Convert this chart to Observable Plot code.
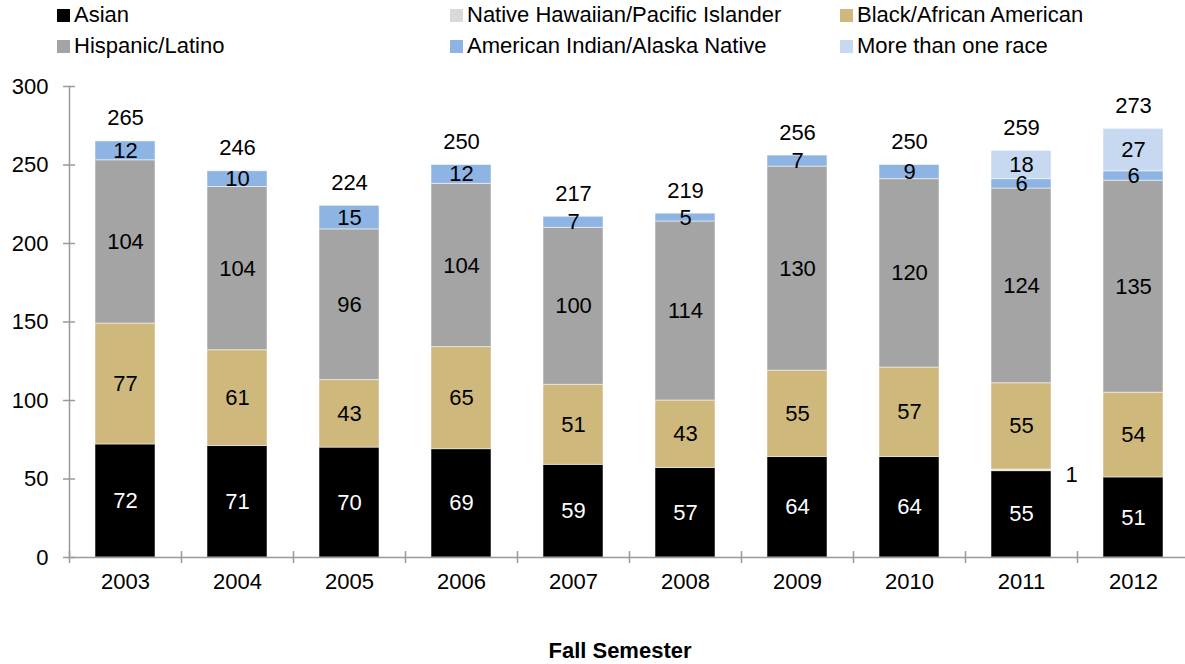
<!DOCTYPE html>
<html><head><meta charset="utf-8">
<script src="https://cdn.jsdelivr.net/npm/d3@7"></script>
<script src="https://cdn.jsdelivr.net/npm/@observablehq/plot@0.6"></script>
<style>
body{margin:0;background:#fff;font-family:"Liberation Sans",Arial,Helvetica,sans-serif;}
#wrap{position:relative;width:1185px;height:664px;overflow:hidden;background:#fff}
#chart{position:absolute;left:0;top:0}
.leg{position:absolute;font-size:22px;line-height:22px;height:22px;display:flex;align-items:center;white-space:nowrap;color:#000}
.sw{width:13px;height:13px;margin-right:4px;display:inline-block}
#xtitle{position:absolute;left:0;width:1240px;top:639px;text-align:center;font-weight:bold;font-size:22px;line-height:24px;color:#000}
</style></head>
<body>
<div id="wrap"><div id="chart"></div><div id="legend"></div><div id="xtitle">Fall Semester</div></div>
<script>
const years = ["2003","2004","2005","2006","2007","2008","2009","2010","2011","2012"];
const seriesNames = ["Asian","Native Hawaiian/Pacific Islander","Black/African American","Hispanic/Latino","American Indian/Alaska Native","More than one race"];
const seriesColors = ["#000000","#d9d9d9","#cfb87c","#a3a4a3","#8db4e2","#c6d9f0"];
const asian    = [72,71,70,69,59,57,64,64,55,51];
const nhpi     = [0,0,0,0,0,0,0,0,1,0];
const black    = [77,61,43,65,51,43,55,57,55,54];
const hispanic = [104,104,96,104,100,114,130,120,124,135];
const aian     = [12,10,15,12,7,5,7,9,6,6];
const multi    = [0,0,0,0,0,0,0,0,18,27];
const totals   = [265,246,224,250,217,219,256,250,259,273];
const yTicks   = [0,50,100,150,200,250,300];

const seriesValues = [asian, nhpi, black, hispanic, aian, multi];
const rows = [];
years.forEach((yr, i) => {
  let acc = 0;
  seriesValues.forEach((vals, s) => {
    const v = vals[i];
    rows.push({year: yr, series: seriesNames[s], value: v, y1: acc, y2: acc + v, mid: acc + v / 2});
    acc += v;
  });
});
const totalRows = years.map((yr, i) => ({year: yr, total: totals[i]}));
const axisColor = "#9a9a9a";
const font = "'Liberation Sans', Arial, Helvetica, sans-serif";
const fs = 22;

const plot = Plot.plot({
  width: 1185,
  height: 664,
  marginTop: 86,
  marginBottom: 107,
  marginLeft: 69,
  marginRight: 0,
  style: {fontFamily: font, fontSize: fs + "px", color: "#000", background: "transparent"},
  x: {domain: years, range: [69, 1189], paddingInner: 0.46, paddingOuter: 0.23, align: 0.5},
  y: {domain: [0, 300]},
  color: {domain: seriesNames, range: seriesColors},
  marks: [
    Plot.barY(rows.filter(d => d.value > 0), {x: "year", y1: "y1", y2: "y2", fill: "series", stroke: "#ffffff", strokeOpacity: 0.5, strokeWidth: 1}),
    Plot.frame({anchor: "left", stroke: axisColor, strokeWidth: 1.5}),
    Plot.ruleY([0], {stroke: axisColor, strokeWidth: 1.5}),
    Plot.ruleX(years, {x: d => d, y1: -3.8, y2: 3.8, dx: -56, stroke: axisColor, strokeWidth: 1.5}),
    Plot.axisY({ticks: yTicks, tickSize: 12, dx: 6, tickPadding: 15, stroke: axisColor, strokeWidth: 1.5, fill: "#000", fontSize: fs, label: null}),
    Plot.axisX({tickSize: 0, tickPadding: 16, fontSize: fs, label: null, fill: "#000"}),
    Plot.text(rows.filter(d => d.value > 0 && d.series === "Asian"), {x: "year", y: "mid", text: d => String(d.value), fill: "#ffffff", fontSize: fs}),
    Plot.text(rows.filter(d => d.value > 0 && d.series !== "Asian" && d.series !== "Native Hawaiian/Pacific Islander"), {x: "year", y: "mid", text: d => String(d.value), fill: "#000000", fontSize: fs}),
    Plot.text(rows.filter(d => d.value > 0 && d.series === "Native Hawaiian/Pacific Islander"), {x: "year", y: "mid", text: d => String(d.value), fill: "#000000", fontSize: fs, textAnchor: "start", dx: 44, dy: 5}),
    Plot.text(totalRows, {x: "year", y: "total", text: d => String(d.total), fill: "#000000", fontSize: fs, dy: -23})
  ]
});
document.getElementById("chart").appendChild(plot);

const legendPos = [
  {x: 57, y: 4}, {x: 450, y: 4}, {x: 840, y: 4},
  {x: 57, y: 35}, {x: 450, y: 35}, {x: 840, y: 35}
];
const leg = document.getElementById("legend");
seriesNames.forEach((name, k) => {
  const d = document.createElement("div");
  d.className = "leg";
  d.style.left = legendPos[k].x + "px";
  d.style.top = legendPos[k].y + "px";
  const sw = document.createElement("span");
  sw.className = "sw";
  sw.style.background = seriesColors[k];
  d.appendChild(sw);
  d.appendChild(document.createTextNode(name));
  leg.appendChild(d);
});
</script>
</body></html>
